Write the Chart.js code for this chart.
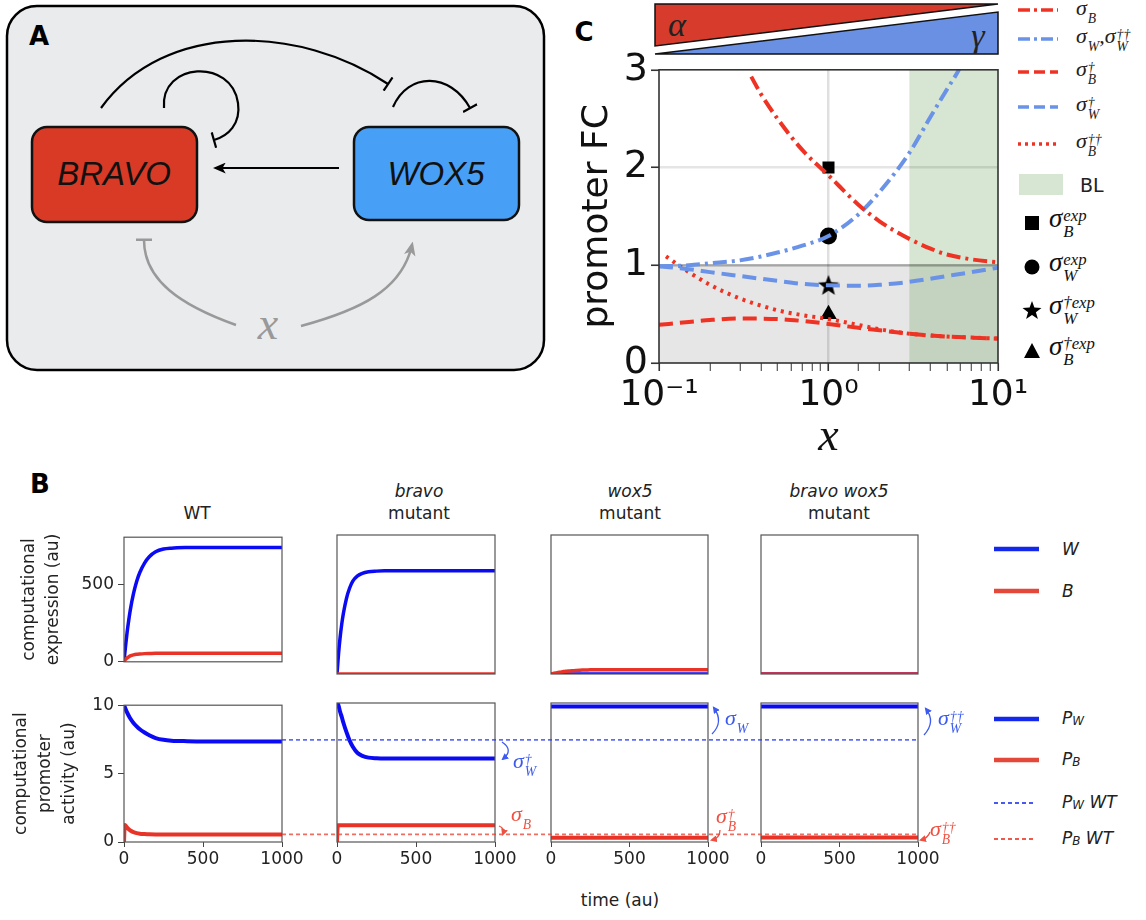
<!DOCTYPE html>
<html>
<head>
<meta charset="utf-8">
<script src="https://cdn.jsdelivr.net/npm/chart.js@4.4.1/dist/chart.umd.min.js"></script>
<style>
  body { margin: 0; background: #fff; font-family: "DejaVu Sans", sans-serif; color: #222; }
  #fig { position: relative; width: 1146px; height: 920px; overflow: hidden; }
  #fig canvas, #fig svg, .lbl { position: absolute; }
  .lbl { white-space: nowrap; transform: translate(-50%, -50%); line-height: 1; }
  .la { transform: translate(0, -50%); }
  .pl { font-weight: bold; font-size: 26px; color: #000; }
  .ttl { font-size: 17px; text-align: center; line-height: 22px; }
  .m { font-family: "Liberation Serif", serif; font-style: italic; }
  .ss { display: inline-flex; flex-direction: column; vertical-align: 0.33em; font-size: 0.62em; line-height: 0.95; margin-left: 1px; }
  .leg { font-size: 17px; font-style: italic; color: #222; }
  .leg sub { font-size: 0.7em; vertical-align: -0.15em; }
</style>
</head>
<body>
<div id="fig">

<!-- panel A: network sketch -->
<svg style="left:0;top:0" width="560" height="400">
  <defs>
    <marker id="hk" viewBox="0 0 12 10" refX="9" refY="5" markerWidth="13" markerHeight="11" markerUnits="userSpaceOnUse" orient="auto"><path d="M0,0 L12,5 L0,10 L3,5 Z" fill="#000"/></marker>
    <marker id="hg" viewBox="0 0 12 10" refX="9" refY="5" markerWidth="14" markerHeight="12" markerUnits="userSpaceOnUse" orient="auto"><path d="M0,0 L12,5 L0,10 L3,5 Z" fill="#999"/></marker>
    <marker id="tk" viewBox="0 0 4 16" refX="2" refY="8" markerWidth="4" markerHeight="16" markerUnits="userSpaceOnUse" orient="auto"><rect x="1" y="0" width="2.2" height="16" fill="#000"/></marker>
    <marker id="tg" viewBox="0 0 4 16" refX="2" refY="8" markerWidth="4" markerHeight="16" markerUnits="userSpaceOnUse" orient="auto"><rect x="1" y="0" width="2.5" height="16" fill="#999"/></marker>
  </defs>
  <rect x="7" y="6" width="537" height="364" rx="30" fill="#eaebed" stroke="#000" stroke-width="2.5"/>
  <text x="29" y="45" font-family="DejaVu Sans" font-weight="bold" font-size="26">A</text>
  <rect x="32" y="127" width="165" height="95" rx="15" fill="#d93a26" stroke="#111" stroke-width="2.5"/>
  <text x="114" y="185" text-anchor="middle" font-family="Liberation Sans" font-style="italic" font-size="33" fill="#111">BRAVO</text>
  <rect x="354" y="127" width="165" height="93" rx="15" fill="#48a0f6" stroke="#111" stroke-width="2.5"/>
  <text x="436" y="185" text-anchor="middle" font-family="Liberation Sans" font-style="italic" font-size="33" fill="#111">WOX5</text>
  <g fill="none" stroke="#000" stroke-width="2.2">
    <path d="M101,108 C 165,20 300,25 388,84" marker-end="url(#tk)"/>
    <path d="M164,108 C 160,62 232,58 238,103 C 241,124 228,136 214,140" marker-end="url(#tk)"/>
    <path d="M393,107 C 408,72 450,72 470,108" marker-end="url(#tk)"/>
    <path d="M339,168 L 216,168" marker-end="url(#hk)"/>
  </g>
  <g fill="none" stroke="#999" stroke-width="2.5">
    <path d="M236,325 C 180,305 144,280 144,240" marker-end="url(#tg)"/>
    <path d="M301,326 C 360,310 402,290 412,245" marker-end="url(#hg)"/>
  </g>
  <text x="268" y="339" text-anchor="middle" font-family="Liberation Serif" font-style="italic" font-size="46" fill="#999">x</text>
</svg>

<!-- panel C: alpha / gamma gradient bar -->
<svg style="left:640px;top:0" width="370" height="60">
  <polygon points="15,4 358,4 15,46" fill="#d63b2b" stroke="#111" stroke-width="1.5"/>
  <polygon points="15,54 358,54 358,12" fill="#6a90e3" stroke="#111" stroke-width="1.5"/>
</svg>
<span class="lbl m" style="left:677px;top:25px;font-size:34px;color:#222">α</span>
<span class="lbl m" style="left:978px;top:36px;font-size:34px;color:#222">γ</span>
<span class="lbl pl" style="left:584px;top:32px">C</span>
<span class="lbl pl" style="left:40px;top:484px">B</span>

<!-- panel C legend symbols -->
<svg style="left:1010px;top:0" width="136" height="370">
  <g stroke-width="3.5" fill="none">
    <line x1="8" y1="10" x2="48" y2="10" stroke="#ee3324" stroke-dasharray="12 4 3 4"/>
    <line x1="8" y1="39" x2="48" y2="39" stroke="#6a93e8" stroke-dasharray="12 4 3 4"/>
    <line x1="8" y1="72" x2="48" y2="72" stroke="#ee3324" stroke-dasharray="11 5"/>
    <line x1="8" y1="107" x2="48" y2="107" stroke="#6a93e8" stroke-dasharray="11 5"/>
    <line x1="8" y1="144" x2="48" y2="144" stroke="#ee3324" stroke-dasharray="3 4"/>
  </g>
  <rect x="9" y="174" width="44" height="21" fill="rgba(70,140,50,0.22)"/>
  <rect x="15" y="216" width="14" height="14" fill="#000"/>
  <circle cx="22" cy="267" r="7.5" fill="#000"/>
  <polygon points="22,301 24.4,307.6 31.5,307.9 25.9,312.2 27.9,319 22,315 16.1,319 18.1,312.2 12.5,307.9 19.6,307.6" fill="#000"/>
  <polygon points="22,343 30,358 14,358" fill="#000"/>
</svg>
<div id="cleg"></div>

<!-- panel B legend symbols -->
<svg style="left:990px;top:530px" width="60" height="330">
  <line x1="4" y1="19" x2="49" y2="19" stroke="rgb(20,40,235)" stroke-width="4.5"/>
  <line x1="4" y1="61" x2="49" y2="61" stroke="rgb(228,72,58)" stroke-width="4.5"/>
  <line x1="4" y1="189" x2="49" y2="189" stroke="rgb(20,40,235)" stroke-width="4.5"/>
  <line x1="4" y1="230" x2="49" y2="230" stroke="rgb(228,72,58)" stroke-width="4.5"/>
  <line x1="4" y1="273" x2="45" y2="273" stroke="rgba(40,60,240,0.85)" stroke-width="2" stroke-dasharray="4 3"/>
  <line x1="4" y1="309" x2="45" y2="309" stroke="rgba(235,60,45,0.85)" stroke-width="2" stroke-dasharray="4 3"/>
</svg>
<span class="lbl la leg" style="left:1062px;top:549px">W</span>
<span class="lbl la leg" style="left:1062px;top:591px">B</span>
<span class="lbl la leg" style="left:1062px;top:719px">P<sub>W</sub></span>
<span class="lbl la leg" style="left:1062px;top:760px">P<sub>B</sub></span>
<span class="lbl la leg" style="left:1062px;top:803px">P<sub>W</sub> WT</span>
<span class="lbl la leg" style="left:1062px;top:839px">P<sub>B</sub> WT</span>

<!-- panel B titles -->
<div class="lbl ttl" style="left:197px;top:513px">WT</div>
<div class="lbl ttl" style="left:419px;top:502px"><i>bravo</i><br>mutant</div>
<div class="lbl ttl" style="left:630px;top:502px"><i>wox5</i><br>mutant</div>
<div class="lbl ttl" style="left:839px;top:502px"><i>bravo wox5</i><br>mutant</div>
<div class="lbl" style="left:620px;top:900px;font-size:17px">time (au)</div>

<!-- panel B sigma annotations -->
<svg style="left:480px;top:690px;z-index:3" width="480" height="170">
  <defs>
    <marker id="ab" viewBox="0 0 10 10" refX="7" refY="5" markerWidth="7" markerHeight="7" markerUnits="userSpaceOnUse" orient="auto"><path d="M0,0 L10,5 L0,10 Z" fill="rgb(60,90,240)"/></marker>
    <marker id="ar" viewBox="0 0 10 10" refX="7" refY="5" markerWidth="7" markerHeight="7" markerUnits="userSpaceOnUse" orient="auto"><path d="M0,0 L10,5 L0,10 Z" fill="rgb(238,80,65)"/></marker>
  </defs>
  <g fill="none" stroke-width="1.3">
    <path d="M22,52 Q34,60 23,69" stroke="rgb(60,90,240)" marker-end="url(#ab)"/>
    <path d="M19,136 Q25,138 23,144" stroke="rgb(238,80,65)" marker-end="url(#ar)"/>
    <path d="M232,44 Q244,32 234,18" stroke="rgb(60,90,240)" marker-end="url(#ab)"/>
    <path d="M240,140 Q240,148 232,150" stroke="rgb(238,80,65)" marker-end="url(#ar)"/>
    <path d="M444,45 Q456,32 446,19" stroke="rgb(60,90,240)" marker-end="url(#ab)"/>
    <path d="M450,142 Q448,148 441,150" stroke="rgb(238,80,65)" marker-end="url(#ar)"/>
  </g>
</svg>
<div id="bann"></div>

</div>
<script>
// ---------- panel C: promoter fold change vs x ----------
const sbX = [0.35, 0.4, 0.5, 0.7, 1, 1.5, 2, 3, 4, 5, 7, 10];
const sbY = [2.93, 2.75, 2.5, 2.18, 1.92, 1.62, 1.45, 1.27, 1.17, 1.11, 1.06, 1.03];
const swX = [0.1, 0.15, 0.2, 0.3, 0.4, 0.5, 0.7, 1, 1.5, 2, 3, 4, 5, 6, 7];
const swY = [0.99, 1.0, 1.02, 1.05, 1.09, 1.13, 1.2, 1.3, 1.52, 1.75, 2.15, 2.52, 2.8, 3.03, 3.3];
const dagX = [0.1, 0.15, 0.2, 0.3, 0.5, 0.7, 1, 1.5, 2, 3, 5, 7, 10];
const sbDagY = [0.39, 0.42, 0.44, 0.455, 0.45, 0.43, 0.4, 0.36, 0.335, 0.3, 0.27, 0.26, 0.25];
const swDagY = [0.99, 0.96, 0.93, 0.89, 0.84, 0.81, 0.795, 0.79, 0.8, 0.83, 0.89, 0.93, 0.975];
const sbDDX = [0.11, 0.15, 0.2, 0.3, 0.5, 0.7, 1, 1.5, 2, 3, 5, 7, 10];
const sbDDY = [1.09, 0.93, 0.8, 0.66, 0.54, 0.49, 0.45, 0.39, 0.345, 0.3, 0.27, 0.26, 0.25];
const expX = 1;
const expY = [2.0, 1.3, 0.8, 0.5];   // sigma_B exp, sigma_W exp, sigma_W dag exp, sigma_B dag exp
const fcBand = [0, 1];
const blRange = [3, 10];
const fcTicks = [0, 1, 2, 3];

// ---------- panel B: time courses ----------
const time = [0, 5, 10, 20, 30, 40, 60, 80, 100, 130, 160, 200, 250, 300, 400, 500, 700, 1000];
const tEnds = [0, 1000];
const wtW    = [0, 54, 104, 194, 270, 337, 442, 521, 579, 640, 681, 713, 731, 737, 741, 742, 742, 742];
const wtB    = [0, 8, 15, 25, 32, 38, 45, 49, 51, 53, 54, 55, 55, 55, 55, 55, 55, 55];
const bravoW = [0, 62, 120, 215, 290, 350, 440, 500, 540, 570, 585, 594, 598, 600, 600, 600, 600, 600];
const bravoB = [0, 0];
const wox5W  = [0, 0];
const wox5B  = [0, 1, 2, 4, 6, 8, 11, 14, 16, 19, 21, 23, 24, 25, 25, 25, 25, 25];
const bwW    = [0, 0];
const bwB    = [0, 0];
const wtPW    = [10, 9.86, 9.72, 9.46, 9.23, 9.03, 8.7, 8.45, 8.24, 8.0, 7.8, 7.6, 7.47, 7.41, 7.37, 7.35, 7.35, 7.35];
const wtPB    = [0, 1.25, 1.2, 1.05, 0.93, 0.84, 0.72, 0.65, 0.61, 0.58, 0.56, 0.55, 0.55, 0.55, 0.55, 0.55, 0.55, 0.55];
const bravoPW = [10, 9.95, 9.8, 9.35, 9.0, 8.6, 7.9, 7.3, 6.85, 6.4, 6.2, 6.07, 6.02, 6.0, 6.0, 6.0, 6.0, 6.0];
const bravoPB = [0, 1.2, 1.2, 1.2, 1.2, 1.2, 1.2, 1.2, 1.2, 1.2, 1.2, 1.2, 1.2, 1.2, 1.2, 1.2, 1.2, 1.2];
const wox5PW  = [9.75, 9.75];
const wox5PB  = [0.3, 0.3];
const bwPW    = [9.75, 9.75];
const bwPB    = [0.32, 0.32];
const exprMax = 808;
const exprTicks = [0, 500];
const actTicks = [0, 5, 10];
const timeTicks = [0, 500, 1000];
const refSpan = [0, 1];

Chart.defaults.font.family = "'DejaVu Sans', sans-serif";
Chart.defaults.color = '#222';

const fig = document.getElementById('fig');
const pts = (xs, ys) => xs.map((x, i) => ({ x: x, y: ys[i] }));
const blue = 'rgb(10,10,245)';
const red = 'rgb(232,52,40)';

const framePlugin = {
  id: 'frame',
  afterDatasetsDraw(chart, args, opts) {
    const { ctx, chartArea: a } = chart;
    ctx.save();
    ctx.strokeStyle = opts.color || '#444';
    ctx.lineWidth = opts.width || 1.2;
    ctx.strokeRect(a.left, a.top, a.right - a.left, a.bottom - a.top);
    ctx.restore();
  }
};

const bandsPlugin = {
  id: 'bands',
  beforeDraw(chart) {
    const { ctx, chartArea: a, scales: { x, y } } = chart;
    ctx.save();
    const y0 = y.getPixelForValue(fcBand[0]), y1 = y.getPixelForValue(fcBand[1]);
    ctx.fillStyle = 'rgba(140,140,140,0.22)';
    ctx.fillRect(a.left, y1, a.right - a.left, y0 - y1);
    const x0 = x.getPixelForValue(blRange[0]), x1 = x.getPixelForValue(blRange[1]);
    ctx.fillStyle = 'rgba(70,140,50,0.22)';
    ctx.fillRect(x0, a.top, x1 - x0, a.bottom - a.top);
    ctx.restore();
  }
};

function addCanvas(left, top, w, h) {
  const cv = document.createElement('canvas');
  cv.width = w; cv.height = h;
  cv.style.left = left + 'px';
  cv.style.top = top + 'px';
  fig.appendChild(cv);
  return cv;
}

function starImage(size) {
  const c = document.createElement('canvas');
  c.width = c.height = size;
  const g = c.getContext('2d');
  g.beginPath();
  for (let i = 0; i < 10; i++) {
    const r = i % 2 ? size * 0.21 : size * 0.5;
    const a = -Math.PI / 2 + i * Math.PI / 5;
    g.lineTo(size / 2 + r * Math.cos(a), size / 2 + r * Math.sin(a) + size * 0.05);
  }
  g.closePath();
  g.fillStyle = '#000';
  g.fill();
  return c;
}

function logLabel(v) {
  const e = Math.log10(v);
  if (Math.abs(e - Math.round(e)) > 1e-6) return '';
  return { '-1': '10⁻¹', '0': '10⁰', '1': '10¹' }[String(Math.round(e))] || '';
}

// panel C chart
const cC = addCanvas(560, 44, 480, 426);
const cRed = '#ee3324', cBlue = '#6a93e8';
function fcLine(label, xs, ys, color, dash) {
  return { label: label, data: pts(xs, ys), borderColor: color, borderWidth: 4, borderDash: dash,
           pointRadius: 0, fill: false, cubicInterpolationMode: 'monotone' };
}
function fcMark(label, y, style, r) {
  return { type: 'scatter', label: label, data: [{ x: expX, y: y }], pointStyle: style, pointRadius: r,
           backgroundColor: '#000', borderColor: '#000', borderWidth: 0 };
}
new Chart(cC, {
  type: 'line',
  data: {
    datasets: [
      fcLine('σB', sbX, sbY, cRed, [14, 5, 3, 5]),
      fcLine('σW', swX, swY, cBlue, [14, 5, 3, 5]),
      fcLine('σB†', dagX, sbDagY, cRed, [14, 7]),
      fcLine('σW†', dagX, swDagY, cBlue, [14, 7]),
      fcLine('σB††', sbDDX, sbDDY, cRed, [3, 5]),
      fcMark('σB exp', expY[0], 'rect', 8.5),
      fcMark('σW exp', expY[1], 'circle', 8.5),
      fcMark('σW† exp', expY[2], starImage(22), 11),
      fcMark('σB† exp', expY[3], 'triangle', 9.5)
    ]
  },
  options: {
    responsive: false, animation: false, devicePixelRatio: 1,
    layout: { padding: { left: 12, top: 25, right: 42, bottom: 0 } },
    plugins: { legend: { display: false }, tooltip: { enabled: false }, frame: { color: '#333', width: 1.6 } },
    scales: {
      x: {
        type: 'logarithmic', min: 0.1, max: 10,
        afterFit: s => { s.height = 107; },
        border: { display: false },
        grid: {
          color: c => (c.tick && c.tick.value === 1) ? 'rgba(0,0,0,0.12)' : 'rgba(0,0,0,0)',
          lineWidth: 2.5, tickColor: '#333', tickLength: 8,
          tickWidth: c => logLabel(c.tick.value) ? 1.6 : 1
        },
        ticks: { autoSkip: false, maxRotation: 0, padding: 3, color: '#111', font: { size: 36 }, callback: v => logLabel(v) },
        title: { display: true, text: 'x', color: '#111', padding: 4,
                 font: { family: "'Liberation Serif', serif", style: 'italic', size: 46 } }
      },
      y: {
        min: 0, max: 3,
        afterFit: s => { s.width = 87; },
        afterBuildTicks: s => { s.ticks = fcTicks.map(v => ({ value: v })); },
        border: { display: false },
        grid: {
          color: c => c.tick.value === 1 ? 'rgba(0,0,0,0.3)' : (c.tick.value === 2 ? 'rgba(0,0,0,0.1)' : 'rgba(0,0,0,0)'),
          lineWidth: 2.5, tickColor: '#333', tickLength: 8, tickWidth: 1.6
        },
        ticks: { padding: 3, color: '#111', font: { size: 38 } },
        title: { display: true, text: 'promoter FC', color: '#111', padding: 4, font: { size: 36 } }
      }
    }
  },
  plugins: [bandsPlugin, framePlugin]
});

// panel B small multiples
const colLeft = [124, 337, 551, 761];
const colW = [158, 158, 157, 157];
const rowTop = [535, 703];
const plotH = 139;

const exprSeries = [
  [{ t: time, v: wtB, c: red }, { t: time, v: wtW, c: blue }],
  [{ t: tEnds, v: bravoB, c: red }, { t: time, v: bravoW, c: blue }],
  [{ t: time, v: wox5B, c: red }, { t: tEnds, v: wox5W, c: blue }],
  [{ t: tEnds, v: bwB, c: red }, { t: tEnds, v: bwW, c: blue }]
];
const actSeries = [
  [{ t: time, v: wtPB, c: red }, { t: time, v: wtPW, c: blue }],
  [{ t: time, v: bravoPB, c: red }, { t: time, v: bravoPW, c: blue }],
  [{ t: tEnds, v: wox5PB, c: red }, { t: tEnds, v: wox5PW, c: blue }],
  [{ t: tEnds, v: bwPB, c: red }, { t: tEnds, v: bwPW, c: blue }]
];

function subplot(col, row) {
  const first = col === 0;
  const bottom = row === 1;
  const yW = first ? (bottom ? 118 : 110) : 10;
  const padT = 12, padR = bottom ? 26 : 4, xH = bottom ? 34 : 2;
  const cv = addCanvas(colLeft[col] - yW, rowTop[row] - padT, yW + colW[col] + padR, padT + plotH + xH);
  const series = bottom ? actSeries[col] : exprSeries[col];
  new Chart(cv, {
    type: 'line',
    data: {
      datasets: series.map(s => ({
        data: pts(s.t, s.v), borderColor: s.c, borderWidth: bottom ? 4 : 3.5,
        pointRadius: 0, fill: false, cubicInterpolationMode: 'monotone'
      }))
    },
    options: {
      responsive: false, animation: false, devicePixelRatio: 1,
      layout: { padding: { left: 0, top: padT, right: padR, bottom: 0 } },
      plugins: { legend: { display: false }, tooltip: { enabled: false }, frame: { color: '#555', width: 1.2 } },
      scales: {
        x: {
          type: 'linear', min: 0, max: 1000,
          afterFit: s => { s.height = xH; },
          afterBuildTicks: s => { s.ticks = timeTicks.map(v => ({ value: v })); },
          border: { display: false },
          grid: { drawOnChartArea: false, drawTicks: bottom, tickLength: 5, tickColor: '#444' },
          ticks: { display: bottom, maxRotation: 0, padding: 2, color: '#222', font: { size: 17 }, callback: v => String(v) }
        },
        y: {
          min: 0, max: bottom ? 10 : exprMax,
          afterFit: s => { s.width = yW; },
          afterBuildTicks: s => { s.ticks = (bottom ? actTicks : exprTicks).map(v => ({ value: v })); },
          border: { display: false },
          grid: { drawOnChartArea: false, drawTicks: first, tickLength: 6, tickColor: '#444' },
          ticks: { display: first, padding: 4, color: '#222', font: { size: 17 }, callback: v => String(v) },
          title: {
            display: first, color: '#222', padding: 4, font: { size: 17, lineHeight: 1.4 },
            text: bottom ? ['computational', 'promoter', 'activity (au)'] : ['computational', 'expression (au)']
          }
        }
      }
    },
    plugins: [framePlugin]
  });
}
for (let r = 0; r < 2; r++) for (let c = 0; c < 4; c++) subplot(c, r);

// WT reference levels carried across the mutant panels
const refPW = wtPW[wtPW.length - 1];
const refPB = wtPB[wtPB.length - 1];
const cRef = addCanvas(colLeft[0] + colW[0], rowTop[1], colLeft[3] + colW[3] - colLeft[0] - colW[0], plotH);
cRef.style.zIndex = 2;
new Chart(cRef, {
  type: 'line',
  data: {
    datasets: [
      { data: pts(refSpan, [refPW, refPW]), borderColor: 'rgba(40,60,240,0.75)', borderWidth: 1.6, borderDash: [4, 3], pointRadius: 0 },
      { data: pts(refSpan, [refPB, refPB]), borderColor: 'rgba(235,60,45,0.75)', borderWidth: 1.6, borderDash: [4, 3], pointRadius: 0 }
    ]
  },
  options: {
    responsive: false, animation: false, devicePixelRatio: 1,
    layout: { padding: 0 },
    plugins: { legend: { display: false }, tooltip: { enabled: false } },
    scales: {
      x: { type: 'linear', display: false, min: 0, max: 1 },
      y: { display: false, min: 0, max: 10 }
    }
  }
});

// math labels
function sig(sub, sup) {
  return '<span class="m">σ<span class="ss"><span>' + (sup || '&nbsp;') + '</span><span>' + sub + '</span></span></span>';
}
function put(parent, html, left, top, size, color, cls) {
  const s = document.createElement('span');
  s.className = 'lbl ' + (cls || '');
  s.style.left = left + 'px';
  s.style.top = top + 'px';
  s.style.fontSize = size + 'px';
  s.style.color = color;
  s.style.zIndex = 4;
  s.innerHTML = html;
  parent.appendChild(s);
}
const cleg = document.getElementById('cleg');
const legX = 1076;
put(cleg, sig('B'), legX, 12, 22, '#222', 'la');
put(cleg, sig('W') + '<span class="m">,</span>' + sig('W', '††'), legX, 40, 22, '#222', 'la');
put(cleg, sig('B', '†'), legX, 73, 22, '#222', 'la');
put(cleg, sig('W', '†'), legX, 108, 22, '#222', 'la');
put(cleg, sig('B', '††'), legX, 145, 22, '#222', 'la');
put(cleg, 'BL', 1080, 185, 19, '#222', 'la');
put(cleg, sig('B', 'exp'), 1049, 222, 27, '#111', 'la');
put(cleg, sig('W', 'exp'), 1049, 266, 27, '#111', 'la');
put(cleg, sig('W', '†exp'), 1049, 309, 27, '#111', 'la');
put(cleg, sig('B', '†exp'), 1049, 350, 27, '#111', 'la');

const bann = document.getElementById('bann');
const aBlue = 'rgb(60,90,240)', aRed = 'rgb(238,80,65)';
put(bann, sig('W', '†'), 513, 765, 22, aBlue, 'la');
put(bann, sig('B'), 511, 818, 22, aRed, 'la');
put(bann, sig('W'), 725, 722, 22, aBlue, 'la');
put(bann, sig('B', '†'), 716, 820, 22, aRed, 'la');
put(bann, sig('W', '††'), 938, 722, 22, aBlue, 'la');
put(bann, sig('B', '††'), 930, 833, 22, aRed, 'la');
</script>
</body>
</html>
